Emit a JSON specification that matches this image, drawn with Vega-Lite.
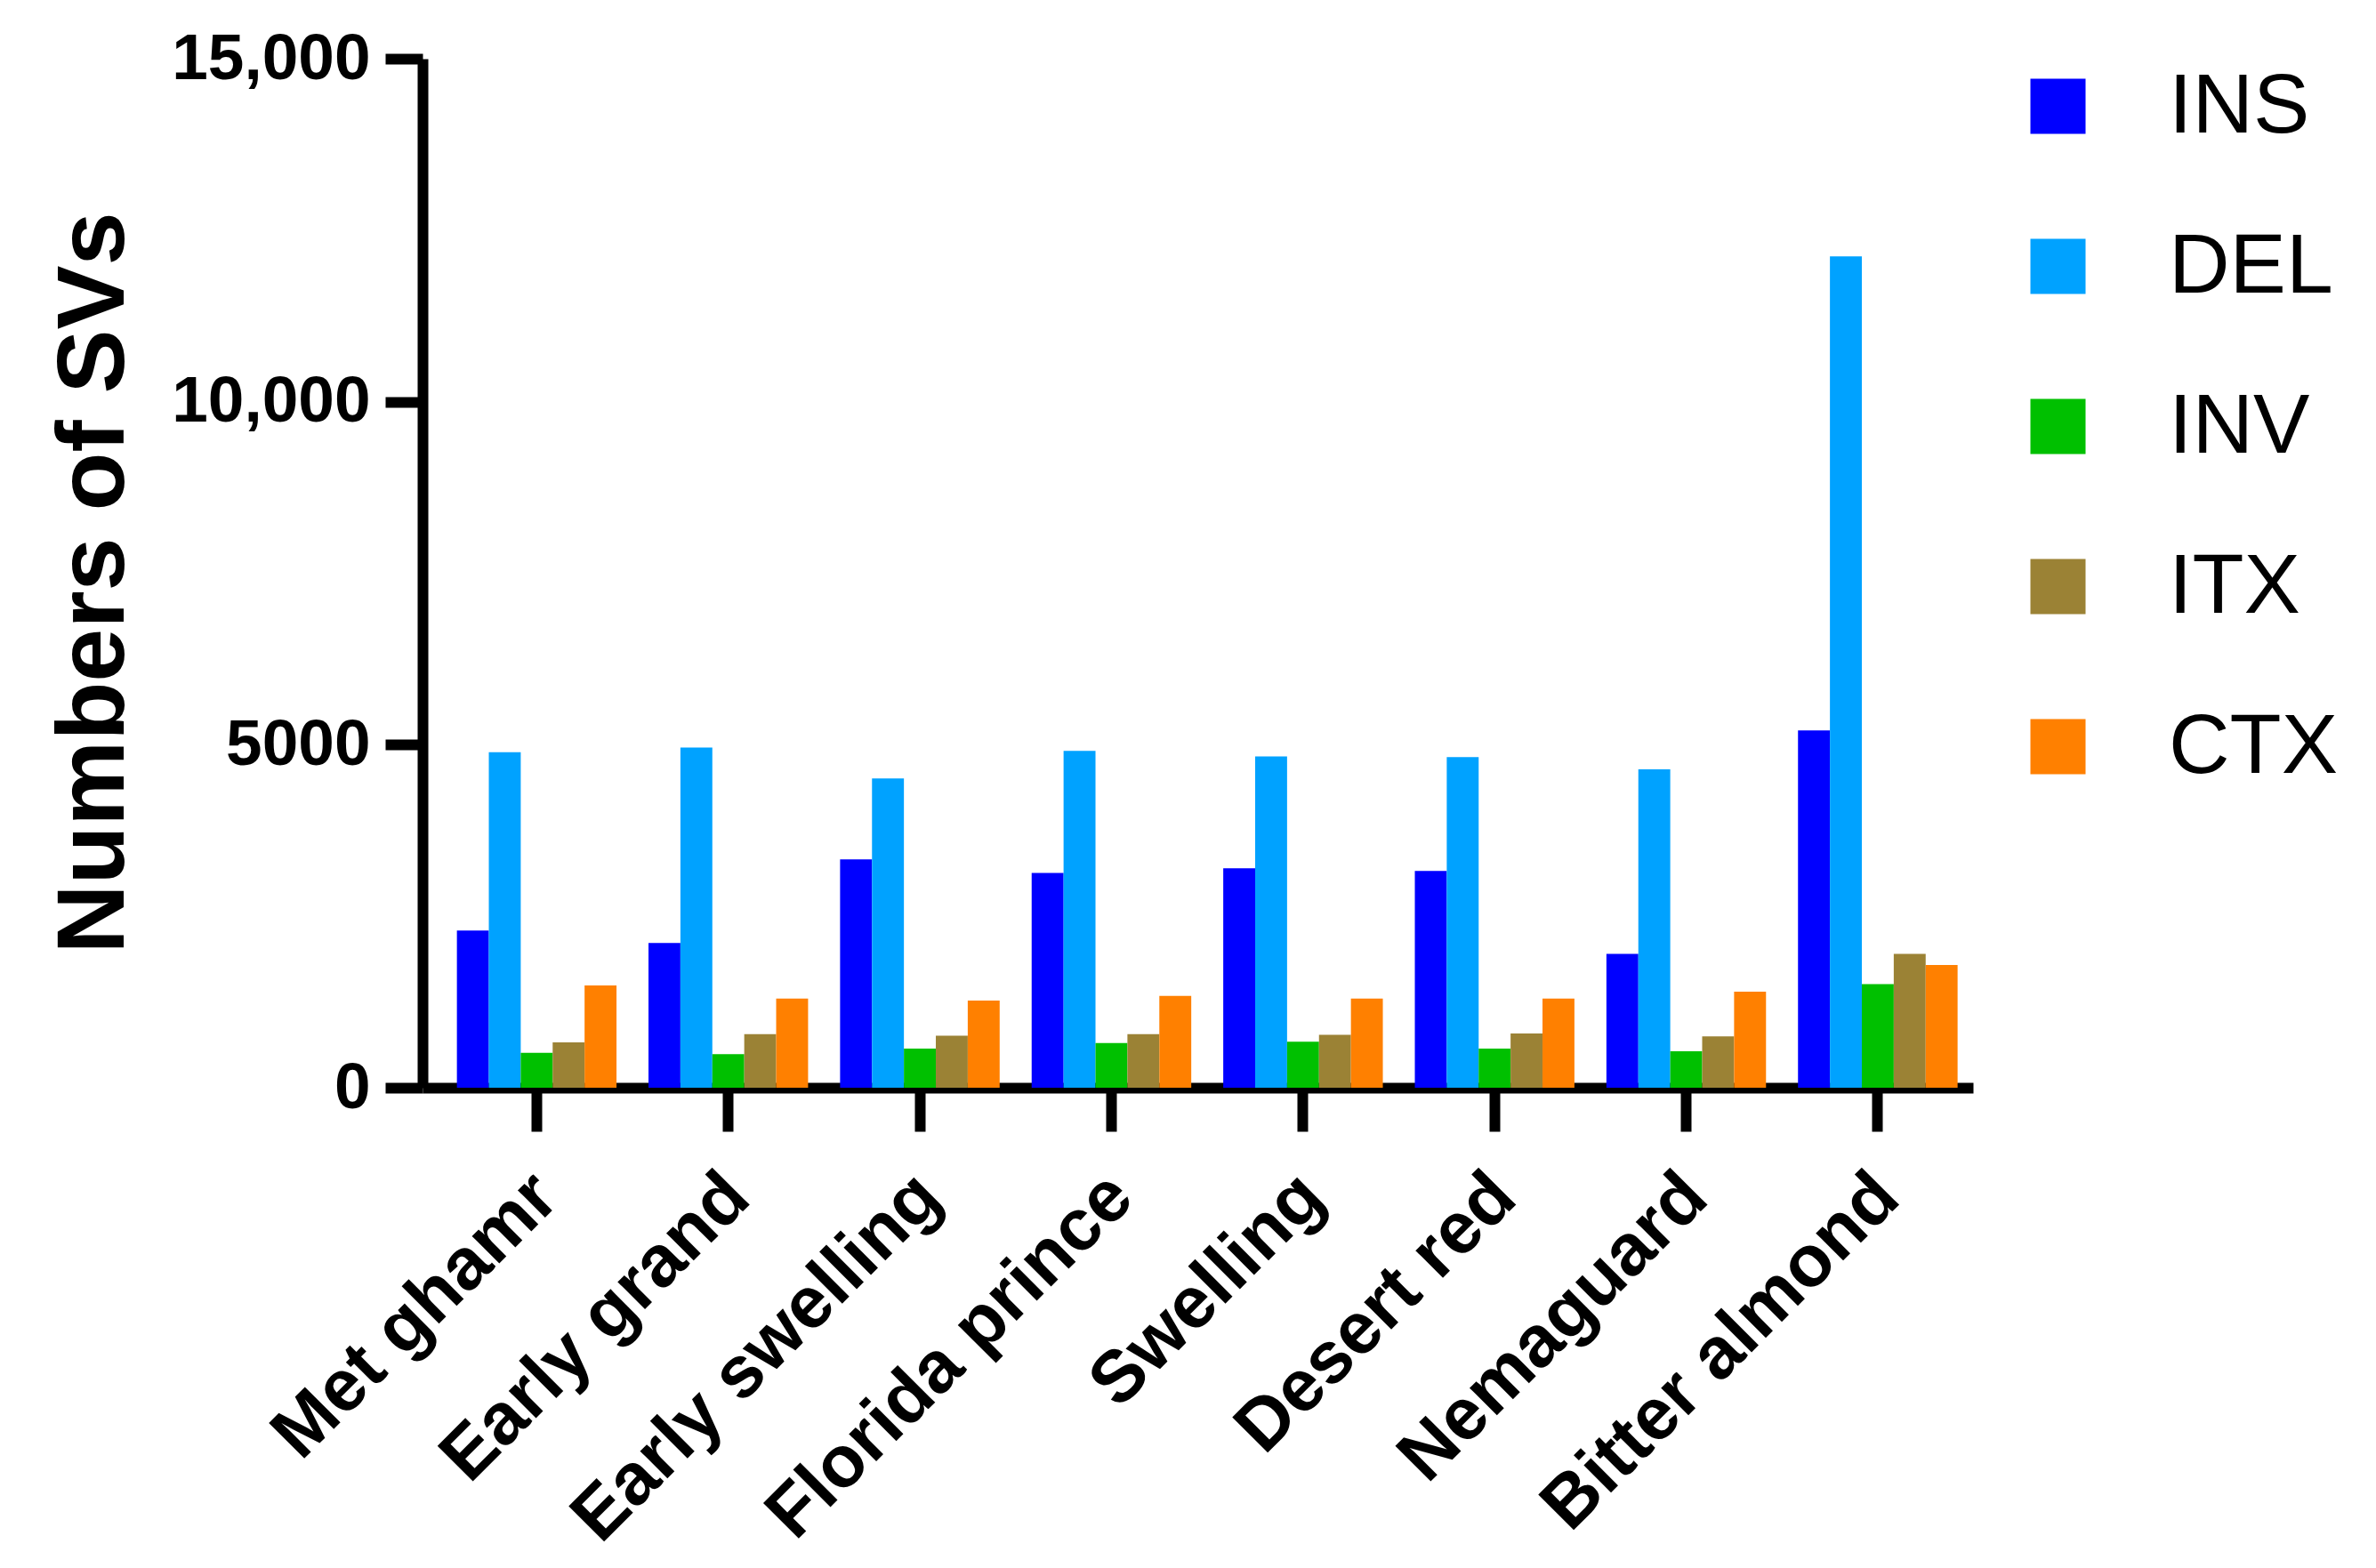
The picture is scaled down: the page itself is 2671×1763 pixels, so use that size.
{
  "$schema": "https://vega.github.io/schema/vega-lite/v6.json",
  "autosize": {"type": "none"},
  "padding": {"left": 475, "top": 66, "right": 453, "bottom": 540},
  "width": 1743,
  "height": 1157,
  "background": "white",
  "config": {"view": {"stroke": null}},
  "data": {
    "values": [
      {"variety": "Met ghamr", "type": "INS", "count": 2290},
      {"variety": "Met ghamr", "type": "DEL", "count": 4890},
      {"variety": "Met ghamr", "type": "INV", "count": 510},
      {"variety": "Met ghamr", "type": "ITX", "count": 660},
      {"variety": "Met ghamr", "type": "CTX", "count": 1490},
      {"variety": "Early grand", "type": "INS", "count": 2110},
      {"variety": "Early grand", "type": "DEL", "count": 4960},
      {"variety": "Early grand", "type": "INV", "count": 490},
      {"variety": "Early grand", "type": "ITX", "count": 780},
      {"variety": "Early grand", "type": "CTX", "count": 1300},
      {"variety": "Early swelling", "type": "INS", "count": 3330},
      {"variety": "Early swelling", "type": "DEL", "count": 4510},
      {"variety": "Early swelling", "type": "INV", "count": 570},
      {"variety": "Early swelling", "type": "ITX", "count": 760},
      {"variety": "Early swelling", "type": "CTX", "count": 1270},
      {"variety": "Florida prince", "type": "INS", "count": 3130},
      {"variety": "Florida prince", "type": "DEL", "count": 4910},
      {"variety": "Florida prince", "type": "INV", "count": 650},
      {"variety": "Florida prince", "type": "ITX", "count": 780},
      {"variety": "Florida prince", "type": "CTX", "count": 1340},
      {"variety": "Swelling", "type": "INS", "count": 3200},
      {"variety": "Swelling", "type": "DEL", "count": 4830},
      {"variety": "Swelling", "type": "INV", "count": 670},
      {"variety": "Swelling", "type": "ITX", "count": 770},
      {"variety": "Swelling", "type": "CTX", "count": 1300},
      {"variety": "Desert red", "type": "INS", "count": 3160},
      {"variety": "Desert red", "type": "DEL", "count": 4820},
      {"variety": "Desert red", "type": "INV", "count": 570},
      {"variety": "Desert red", "type": "ITX", "count": 790},
      {"variety": "Desert red", "type": "CTX", "count": 1300},
      {"variety": "Nemaguard", "type": "INS", "count": 1950},
      {"variety": "Nemaguard", "type": "DEL", "count": 4640},
      {"variety": "Nemaguard", "type": "INV", "count": 530},
      {"variety": "Nemaguard", "type": "ITX", "count": 750},
      {"variety": "Nemaguard", "type": "CTX", "count": 1400},
      {"variety": "Bitter almond", "type": "INS", "count": 5210},
      {"variety": "Bitter almond", "type": "DEL", "count": 12120},
      {"variety": "Bitter almond", "type": "INV", "count": 1510},
      {"variety": "Bitter almond", "type": "ITX", "count": 1950},
      {"variety": "Bitter almond", "type": "CTX", "count": 1790}
    ]
  },
  "mark": {"type": "bar"},
  "encoding": {
    "x": {
      "field": "variety",
      "type": "nominal",
      "sort": ["Met ghamr", "Early grand", "Early swelling", "Florida prince", "Swelling", "Desert red", "Nemaguard", "Bitter almond"],
      "scale": {"paddingInner": 0.167, "paddingOuter": 0.13, "align": 0.69},
      "axis": {
        "title": null,
        "labelAngle": -45,
        "labelAlign": "right",
        "labelBaseline": "top",
        "labelFont": "Liberation Sans",
        "labelFontWeight": "bold",
        "labelFontSize": 82,
        "labelColor": "black",
        "labelPadding": 32,
        "labelOffset": -18,
        "labelLimit": 1000,
        "labelOverlap": false,
        "domainColor": "black",
        "domainWidth": 12,
        "tickColor": "black",
        "tickWidth": 12,
        "tickSize": 49
      }
    },
    "xOffset": {
      "field": "type",
      "type": "nominal",
      "sort": ["INS", "DEL", "INV", "ITX", "CTX"],
      "scale": {"paddingInner": 0, "paddingOuter": 0}
    },
    "y": {
      "field": "count",
      "type": "quantitative",
      "scale": {"domain": [0, 15000], "nice": false},
      "axis": {
        "values": [0, 5000, 10000, 15000],
        "labelExpr": "datum.value >= 10000 ? format(datum.value, ',') : format(datum.value, 'd')",
        "labelFont": "Liberation Sans",
        "labelFontWeight": "bold",
        "labelFontSize": 73,
        "labelColor": "black",
        "labelPadding": 17,
        "labelLimit": 1000,
        "grid": false,
        "domainColor": "black",
        "domainWidth": 12,
        "tickColor": "black",
        "tickWidth": 12,
        "tickSize": 42,
        "title": "Numbers of SVs",
        "titleFont": "Liberation Sans",
        "titleFontSize": 108,
        "titleFontWeight": "bold",
        "titleColor": "black",
        "titleAngle": -90,
        "titleX": -337,
        "titleY": 589,
        "titleAlign": "center",
        "titleBaseline": "alphabetic"
      }
    },
    "color": {
      "field": "type",
      "type": "nominal",
      "scale": {
        "domain": ["INS", "DEL", "INV", "ITX", "CTX"],
        "range": ["#0000FF", "#00A2FF", "#00C000", "#9B8235", "#FF8000"]
      },
      "legend": {
        "title": null,
        "orient": "none",
        "legendX": 1791,
        "legendY": 6,
        "symbolType": "square",
        "symbolSize": 3844,
        "symbolStrokeWidth": 0,
        "symbolOpacity": 1,
        "labelFont": "Liberation Sans",
        "labelFontSize": 95,
        "labelColor": "black",
        "labelOffset": 77,
        "labelLimit": 1000,
        "rowPadding": 84
      }
    }
  }
}
